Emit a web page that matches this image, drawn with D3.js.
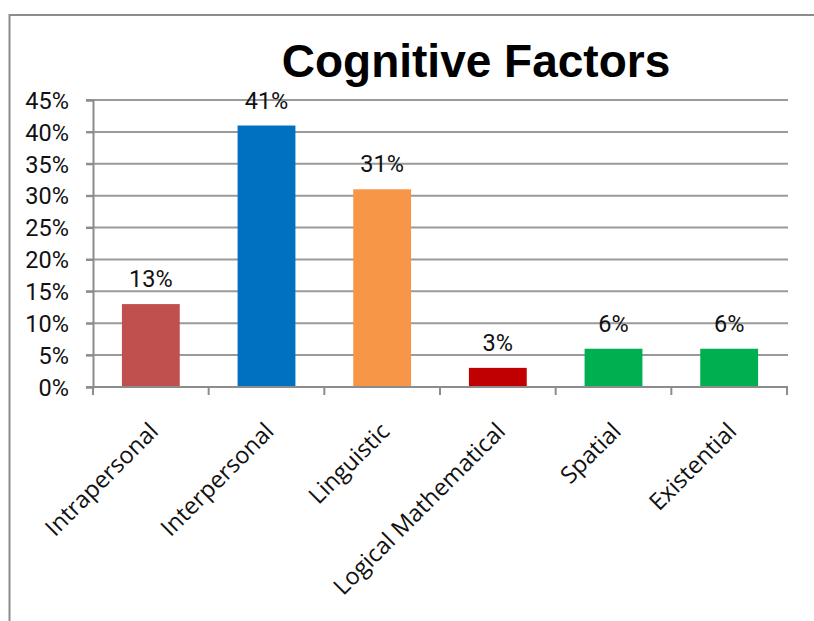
<!DOCTYPE html>
<html><head><meta charset="utf-8">
<script src="https://cdn.jsdelivr.net/npm/d3@7"></script>
<style>body{margin:0;background:#fff}</style>
</head><body>
<svg id="c" width="814" height="621"></svg>
<script>
const categories = ["Intrapersonal","Interpersonal","Linguistic","Logical Mathematical","Spatial","Existential"];
const values = [13, 41, 31, 3, 6, 6];
const colors = ["#C0504D","#0070C0","#F79646","#C00000","#00B050","#00B050"];
const yTicks = [0,5,10,15,20,25,30,35,40,45];
const title = "Cognitive Factors";

const svg = d3.select("#c");
const m = {left: 93, right: 787, top: 100, bottom: 387};

// outer frame
svg.append("path").attr("d", "M9.5,630 L9.5,15 L830,15")
  .attr("fill","none").attr("stroke","#8c8c8c").attr("stroke-width",2);

const x = d3.scaleBand().domain(categories).range([m.left, m.right]).paddingInner(0.5).paddingOuter(0.25);
const y = d3.scaleLinear().domain([0,45]).range([m.bottom, m.top]);

// gridlines
svg.append("g").selectAll("line").data(yTicks.filter(d=>d>0)).join("line")
  .attr("x1", m.left-7).attr("x2", m.right+1)
  .attr("y1", d=>y(d)).attr("y2", d=>y(d))
  .attr("stroke","#9a9a9a").attr("stroke-width",2);

// y axis
const yAxis = d3.axisLeft(y).tickValues(yTicks).tickSize(7).tickPadding(17).tickFormat(d=>d+"%");
const gy = svg.append("g").attr("transform",`translate(${m.left},0)`).call(yAxis);
gy.select(".domain").attr("stroke","#8c8c8c").attr("stroke-width",2);
gy.selectAll(".tick line").attr("stroke","#8c8c8c").attr("stroke-width",2);
gy.selectAll(".tick text").attr("font-family","Roboto, 'Liberation Sans', Arial, sans-serif")
  .attr("font-size",23.5).attr("fill","#111").attr("dy","0.35em");

// bars
svg.append("g").selectAll("rect").data(values).join("rect")
  .attr("x",(d,i)=>x(categories[i])).attr("width",x.bandwidth())
  .attr("y",d=>y(d)).attr("height",d=>y(0)-y(d))
  .attr("fill",(d,i)=>colors[i]);

// data labels
svg.append("g").selectAll("text").data(values).join("text")
  .attr("x",(d,i)=>x(categories[i])+x.bandwidth()/2)
  .attr("y",d=>y(d)-17)
  .attr("text-anchor","middle")
  .attr("font-family","Roboto, 'Liberation Sans', Arial, sans-serif")
  .attr("font-size",23.5).attr("fill","#111")
  .text(d=>d+"%");

// x axis line and ticks at band boundaries
const step = x.step();
const edges = d3.range(categories.length+1).map(i=>m.left + i*step);
svg.append("line").attr("x1",m.left-7).attr("x2",m.right+1).attr("y1",m.bottom).attr("y2",m.bottom)
  .attr("stroke","#8c8c8c").attr("stroke-width",2);
svg.append("g").selectAll("line").data(edges).join("line")
  .attr("x1",d=>d).attr("x2",d=>d).attr("y1",m.bottom).attr("y2",m.bottom+8)
  .attr("stroke","#8c8c8c").attr("stroke-width",2);

// x labels
svg.append("g").selectAll("text").data(categories).join("text")
  .attr("transform",d=>`translate(${x(d)+x.bandwidth()/2+3},427) rotate(-45)`)
  .attr("text-anchor","end").attr("dy","0.35em")
  .attr("font-family","'Open Sans', Lato, sans-serif")
  .attr("font-size",23.5).attr("fill","#111")
  .text(d=>d);

// title
svg.append("text").attr("x",476).attr("y",77).attr("text-anchor","middle")
  .attr("font-family","'Liberation Sans', Arial, sans-serif").attr("font-weight","bold")
  .attr("font-size",46).attr("fill","#000").text(title);
</script>
</body></html>
